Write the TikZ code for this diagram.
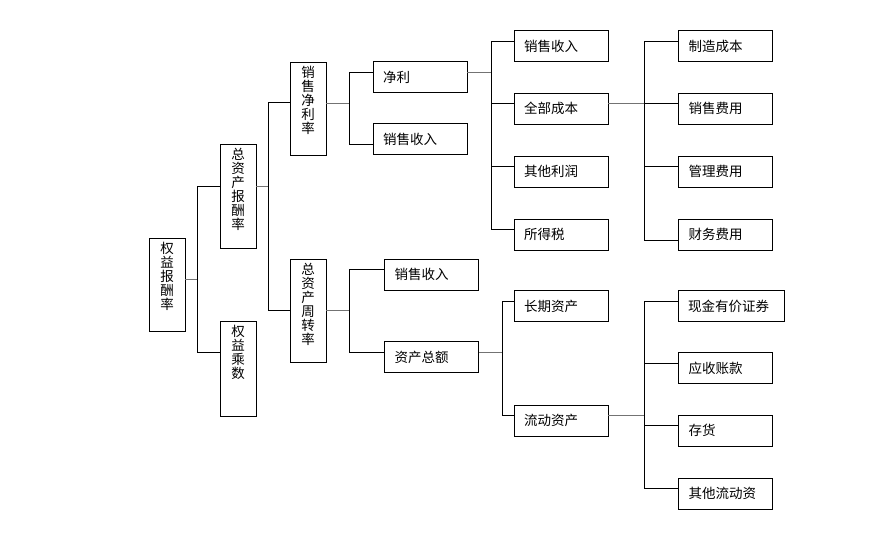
\documentclass[tikz,border=0pt]{standalone}
\usepackage{fontspec}
\setmainfont{Noto Sans CJK SC}
\usetikzlibrary{positioning}

% vertical label: one character per line, set from the top
\newcommand{\vtext}[2]{\parbox[c][#1][t]{14pt}{\centering #2}}

\begin{document}
\begin{tikzpicture}[
    x=1pt, y=-1pt,
    font=\fontsize{13.5}{14}\selectfont,
    box/.style={
      draw,
      line width=0.8pt,
      minimum height=31pt,
      text width=74pt,
      inner xsep=10pt,
      align=left,
    },
    vbox/.style={
      draw,
      line width=0.8pt,
      minimum width=36pt,
      inner xsep=0pt,
      inner ysep=4pt,
    },
    stub/.style={black!55, line width=1pt},
    link/.style={black, line width=0.7pt},
  ]
  \useasboundingbox (0,0) rectangle (893,538);

  % --- Vertical boxes (left part of the tree) ---
  \node[vbox] (roe) at (167,284.5) {\vtext{85pt}{权\\益\\报\\酬\\率}};
  \node[vbox] (roa) at (238,196)   {\vtext{96pt}{总\\资\\产\\报\\酬\\率}};
  \node[vbox] (eqm) at (238,368.5) {\vtext{87pt}{权\\益\\乘\\数}};
  \node[vbox] (npm) at (308,108.5) {\vtext{85pt}{销\\售\\净\\利\\率}};
  \node[vbox] (ato) at (308,310.5) {\vtext{95pt}{总\\资\\产\\周\\转\\率}};

  % --- Third level ---
  \node[box] (np)     at (420,77)    {净利};
  \node[box] (sales1) at (420,139)   {销售收入};
  \node[box] (sales2) at (431.5,274.5) {销售收入};
  \node[box] (assets) at (431.5,357) {资产总额};

  % --- Fourth level ---
  \node[box] (sales3) at (561,46) {销售收入};
  \node[box, below=31pt of sales3] (cost)  {全部成本};
  \node[box, below=31pt of cost]   (other) {其他利润};
  \node[box, below=31pt of other]  (tax)   {所得税};
  \node[box] (ltassets)  at (561,306)   {长期资产};
  \node[box] (curassets) at (561,420.5) {流动资产};

  % --- Fifth level ---
  \node[box] (mfg) at (725.5,46) {制造成本};
  \node[box, below=31pt of mfg]     (selling) {销售费用};
  \node[box, below=31pt of selling] (admin)   {管理费用};
  \node[box, below=31pt of admin]   (finance) {财务费用};
  \node[box, text width=86pt] (cash) at (731,306) {现金有价证券};
  \node[box] (recv) at (725.5,368) {应收账款};
  \node[box, below=31pt of recv] (inv)      {存货};
  \node[box, below=31pt of inv]  (othercur) {其他流动资};

  % --- Entry points of the branches ---
  \foreach \n in {np,sales2,assets,sales3,cost,other,tax,ltassets,curassets,
                  mfg,selling,admin,cash,recv,inv,othercur}
    \coordinate (\n-in) at ([yshift=5pt]\n.west);
  \coordinate (roa-in)     at ([yshift=10pt]roa.west);
  \coordinate (eqm-in)     at ([yshift=16pt]eqm.west);
  \coordinate (npm-in)     at ([yshift=6pt]npm.west);
  \coordinate (ato-in)     at (ato.west);
  \coordinate (sales1-in)  at ([yshift=-5pt]sales1.west);
  \coordinate (finance-in) at ([yshift=-6pt]finance.west);

  % --- Stubs from each parent to its junction ---
  \draw[stub] ([yshift=5pt]roe.east)  -- ++(12,0) coordinate (j1);
  \draw[stub] ([yshift=10pt]roa.east) -- ++(12,0) coordinate (j2);
  \draw[stub] ([yshift=5pt]npm.east)  -- ++(23,0) coordinate (j3);
  \draw[stub] (ato.east)              -- ++(23,0) coordinate (j4);
  \draw[stub] ([yshift=5pt]np.east)   -- ++(24,0) coordinate (j5);
  \draw[stub] ([yshift=5pt]cost.east) -- ++(36,0) coordinate (j6);
  \draw[stub] ([yshift=5pt]assets.east) -- ++(23,0) coordinate (j7);
  \draw[stub] ([yshift=5pt]curassets.east) -- ++(36,0) coordinate (j8);

  % --- Brackets to the children ---
  \draw[link] (roa-in) -| (j1) |- (eqm-in);
  \draw[link] (npm-in) -| (j2) |- (ato-in);
  \draw[link] (np-in) -| (j3) |- (sales1-in);
  \draw[link] (sales2-in) -| (j4) |- (assets-in);
  \draw[link] (sales3-in) -| (j5) |- (tax-in);
  \foreach \n in {cost,other} \draw[link] (j5 |- \n-in) -- (\n-in);
  \draw[link] (mfg-in) -| (j6) |- (finance-in);
  \foreach \n in {selling,admin} \draw[link] (j6 |- \n-in) -- (\n-in);
  \draw[link] (ltassets-in) -| (j7) |- (curassets-in);
  \draw[link] (cash-in) -| (j8) |- (othercur-in);
  \foreach \n in {recv,inv} \draw[link] (j8 |- \n-in) -- (\n-in);

\end{tikzpicture}
\end{document}
